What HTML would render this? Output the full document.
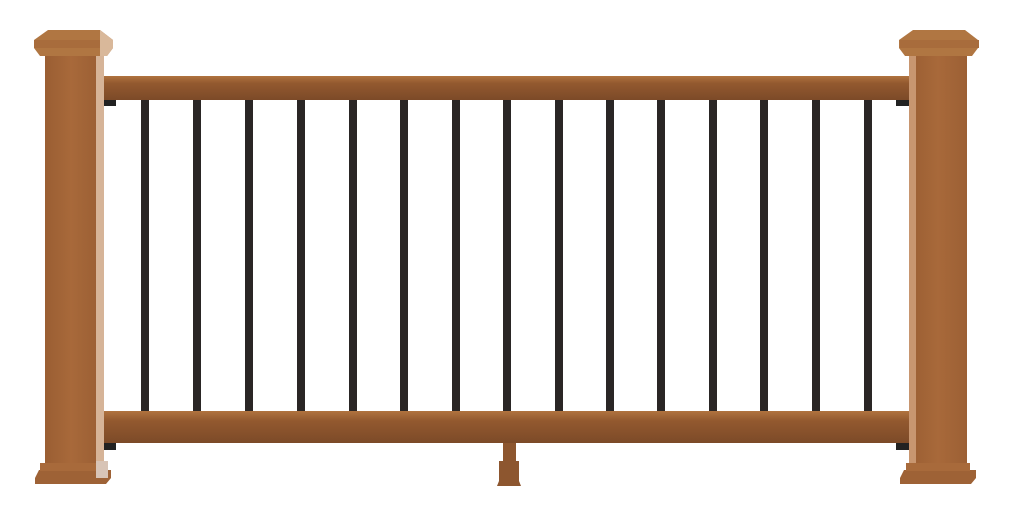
<!DOCTYPE html>
<html><head><style>html,body{margin:0;background:#fff}svg{display:block}</style></head>
<body>
<svg width="1016" height="516" viewBox="0 0 1016 516" xmlns="http://www.w3.org/2000/svg">
<defs>
<linearGradient id="rail" x1="0" y1="0" x2="0" y2="1"><stop offset="0" stop-color="#b0733f"/><stop offset="0.3" stop-color="#93592f"/><stop offset="1" stop-color="#7c4a28"/></linearGradient>
<linearGradient id="post" x1="0" y1="0" x2="1" y2="0"><stop offset="0" stop-color="#9a5e33"/><stop offset="0.5" stop-color="#a8693a"/><stop offset="1" stop-color="#9c6035"/></linearGradient>
</defs>
<!-- balusters -->
<g fill="#2a2625">
<rect x="141" y="98" width="8" height="315"/><rect x="193" y="98" width="8" height="315"/><rect x="245" y="98" width="8" height="315"/><rect x="297" y="98" width="8" height="315"/><rect x="349" y="98" width="8" height="315"/><rect x="400" y="98" width="8" height="315"/><rect x="452" y="98" width="8" height="315"/><rect x="503" y="98" width="8" height="315"/><rect x="555" y="98" width="8" height="315"/><rect x="606" y="98" width="8" height="315"/><rect x="657" y="98" width="8" height="315"/><rect x="709" y="98" width="8" height="315"/><rect x="760" y="98" width="8" height="315"/><rect x="812" y="98" width="8" height="315"/><rect x="864" y="98" width="8" height="315"/>
</g>
<!-- brackets -->
<g fill="#222">
<rect x="96" y="98" width="20" height="8"/><rect x="896" y="98" width="20" height="8"/>
<rect x="96" y="441" width="20" height="9"/><rect x="896" y="441" width="20" height="9"/>
</g>
<!-- rails -->
<rect x="96" y="76" width="822" height="24" fill="url(#rail)"/>
<rect x="96" y="411" width="822" height="32" fill="url(#rail)"/>
<!-- center foot -->
<path d="M503 443h13v18h3v20l2 5h-24l2-5v-20h4z" fill="#8d562f"/>
<!-- left post -->
<rect x="45" y="52" width="52" height="412" fill="url(#post)"/>
<rect x="96" y="52" width="8" height="412" fill="#d6b498"/>
<path d="M48 30h52l13 10v8l-6 8H40l-6-8v-8z" fill="#b07642"/>
<rect x="34" y="40" width="79" height="8" fill="#a86c3c"/>
<path d="M100 30l13 10v8l-6 8h-7z" fill="#d9b89a"/>
<path d="M39 470h72v8l-5 6H35v-6z" fill="#9e6236"/>
<rect x="40" y="463" width="64" height="8" fill="#a86a3b"/>
<rect x="96" y="461" width="12" height="17" fill="#d8c4b6"/>
<!-- right post -->
<rect x="909" y="52" width="58" height="412" fill="url(#post)"/>
<rect x="909" y="52" width="7" height="412" fill="#c89670"/>
<path d="M913 30h52l13 10v8l-6 8h-67l-6-8v-8z" fill="#b07642"/>
<rect x="900" y="40" width="79" height="8" fill="#a86c3c"/>
<path d="M904 470h72v8l-5 6h-71v-6z" fill="#9e6236"/>
<rect x="906" y="463" width="64" height="8" fill="#a86a3b"/>
</svg>
</body></html>
